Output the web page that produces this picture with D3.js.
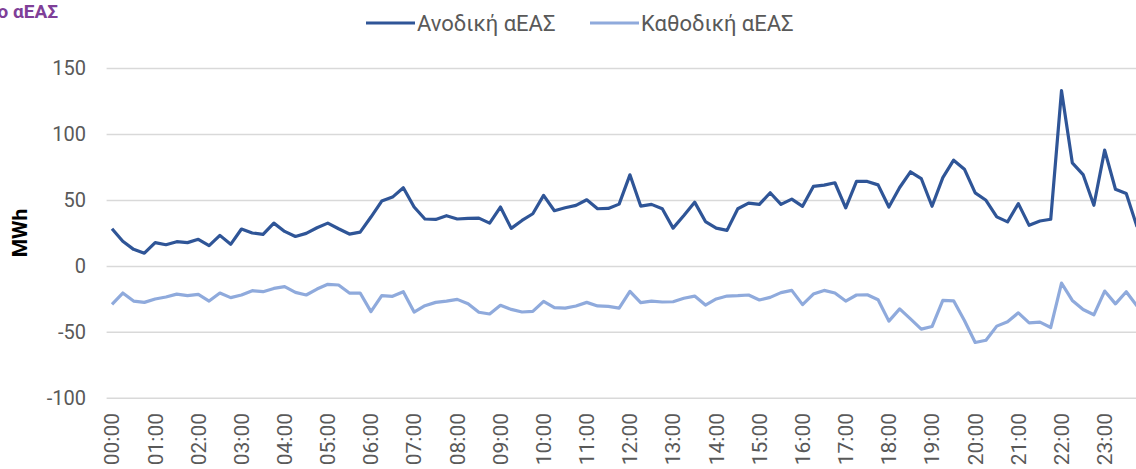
<!DOCTYPE html>
<html>
<head>
<meta charset="utf-8">
<script src="https://cdn.jsdelivr.net/npm/d3@7"></script>
<style>
  body { margin: 0; background: #fff; overflow: hidden; }
  text { font-family: Roboto, "Noto Sans", sans-serif; }
</style>
</head>
<body>
<div id="chart"></div>
<script>
// 15-min intervals, labels every hour
var hours = d3.range(24).map(function(h){ return (h < 10 ? "0" : "") + h + ":00"; });
var slots = [];
hours.forEach(function(h, i){
  ["00","15","30","45"].forEach(function(m){ slots.push(h.slice(0,3) + m); });
});

var upward = [
  28.5, 19, 12.9, 10, 18, 16.4, 18.7, 18, 20.5, 15.7, 23.5, 16.7,
  28.3, 25.3, 24.2, 32.8, 26.5, 22.7, 25, 29.3, 32.8, 28.5, 24.5, 26,
  37.4, 49.5, 52.5, 59.6, 45, 35.9, 35.6, 38.4, 35.9, 36.4, 36.6, 32.8,
  45, 28.8, 34.8, 39.9, 53.8, 42.2, 44.4, 46.2, 50.5, 43.7, 43.9, 47.2,
  69.4, 45.7, 47, 43.7, 29, 38.6, 48.7, 34, 29, 27.3, 43.7, 48,
  47, 55.8, 47, 51, 45.5, 60.6, 61.6, 63.4, 44.4, 64.4, 64.4, 61.8,
  45, 59.8, 71.7, 66.6, 45.6, 67.3, 80.5, 73.7, 55.7, 50.1, 37.5, 33.7,
  47.6, 31.1, 34.4, 35.7, 133.2, 78.5, 69.6, 46.3, 88.1, 58.5, 55.2, 30
];

var downward = [
  -28.8, -20.2, -26.3, -27.3, -24.7, -23.2, -21, -22.2, -21.2, -26.3, -20.2, -23.7,
  -21.7, -18.4, -19.2, -16.7, -15.4, -19.7, -21.7, -17.2, -13.6, -14.1, -20.2, -20.2,
  -34.3, -22.2, -22.7, -19.2, -34.6, -29.8, -27.3, -26.3, -25, -28.3, -34.8, -36.1,
  -29.5, -32.6, -34.6, -34.1, -26.5, -31.3, -31.6, -30, -27.3, -30, -30.3, -31.6,
  -18.9, -27.5, -26.3, -27, -26.8, -24.2, -22.5, -29.3, -24.7, -22.5, -22.2, -21.7,
  -25.5, -23.5, -19.9, -18.2, -29, -21, -18.2, -20.2, -26.3, -21.7, -21.5, -25.3,
  -41.5, -32.2, -39.8, -47.6, -45.6, -25.8, -26.1, -41, -57.7, -56, -45.3, -42,
  -35.2, -42.8, -42.3, -46.3, -12.7, -25.8, -32.7, -36.7, -18.7, -28.4, -19.2, -30
];

var yTicks = [150, 100, 50, 0, -50, -100];

var series = [
  { name: "Ανοδική αΕΑΣ", values: upward, color: "#2F5597" },
  { name: "Καθοδική αΕΑΣ", values: downward, color: "#8FAADC" }
];

var width = 1136, height = 469;

var svg = d3.select("#chart").append("svg")
  .attr("width", width)
  .attr("height", height);

var x = d3.scaleBand()
  .domain(slots)
  .range([106.6, 106.6 + slots.length * 10.79]);

var y = d3.scaleLinear()
  .domain([-100, 150])
  .range([398.3, 68.5]);

// gridlines
svg.append("g")
  .selectAll("line")
  .data(yTicks)
  .enter()
  .append("line")
  .attr("x1", x.range()[0])
  .attr("x2", x.range()[1])
  .attr("y1", function(d){ return y(d); })
  .attr("y2", function(d){ return y(d); })
  .attr("stroke", "#d9d9d9")
  .attr("stroke-width", 1.5);

// y axis labels (plain hyphen for negatives)
var yAxis = d3.axisLeft(y).tickValues(yTicks)
  .tickFormat(function(d){ return String(d); })
  .tickSize(0).tickPadding(0);
var gy = svg.append("g")
  .attr("transform", "translate(86,0)")
  .call(yAxis);
gy.select(".domain").remove();
gy.selectAll("text")
  .attr("fill", "#595959")
  .style("font-size", "20px")
  .style("font-family", "Roboto, sans-serif");

// x axis labels (hourly)
var xAxis = d3.axisBottom(x)
  .tickValues(slots.filter(function(d, i){ return i % 4 == 0; }))
  .tickSize(0);
var gx = svg.append("g")
  .attr("transform", "translate(0,413)")
  .call(xAxis);
gx.select(".domain").remove();
gx.selectAll("text")
  .attr("fill", "#595959")
  .style("font-size", "21px")
  .style("font-family", "Roboto, sans-serif")
  .attr("text-anchor", "end")
  .attr("transform", "rotate(-90)")
  .attr("x", 0)
  .attr("y", 0)
  .attr("dx", 0)
  .attr("dy", "0.35em");

// lines
var line = d3.line()
  .x(function(d, i){ return x(slots[i]) + x.bandwidth() / 2; })
  .y(function(d){ return y(d); });

svg.append("g")
  .selectAll("path")
  .data(series)
  .enter()
  .append("path")
  .attr("d", function(d){ return line(d.values); })
  .attr("fill", "none")
  .attr("stroke", function(d){ return d.color; })
  .attr("stroke-width", 3.2)
  .attr("stroke-linejoin", "round");

// axis title
svg.append("text")
  .attr("transform", "translate(27,233) rotate(-90)")
  .attr("text-anchor", "middle")
  .style("font-size", "21px")
  .style("font-weight", "bold")
  .attr("fill", "#000")
  .text("MWh");

// chart title, cut at the left edge
svg.append("text")
  .attr("x", 58)
  .attr("y", 18)
  .attr("text-anchor", "end")
  .style("font-size", "19px")
  .style("font-weight", "bold")
  .attr("fill", "#7F3F98")
  .text("Ενεργοποιημένο αΕΑΣ");

// legend
var legendX = [366, 590];
var lg = svg.append("g")
  .selectAll("g")
  .data(series)
  .enter()
  .append("g")
  .attr("transform", function(d, i){ return "translate(" + legendX[i] + ",23)"; });
lg.append("line")
  .attr("x1", 0).attr("x2", 49)
  .attr("stroke", function(d){ return d.color; })
  .attr("stroke-width", 3.2);
lg.append("text")
  .attr("x", 51)
  .attr("dy", "0.35em")
  .style("font-size", "22px")
  .attr("fill", "#595959")
  .text(function(d){ return d.name; });
</script>
</body>
</html>
